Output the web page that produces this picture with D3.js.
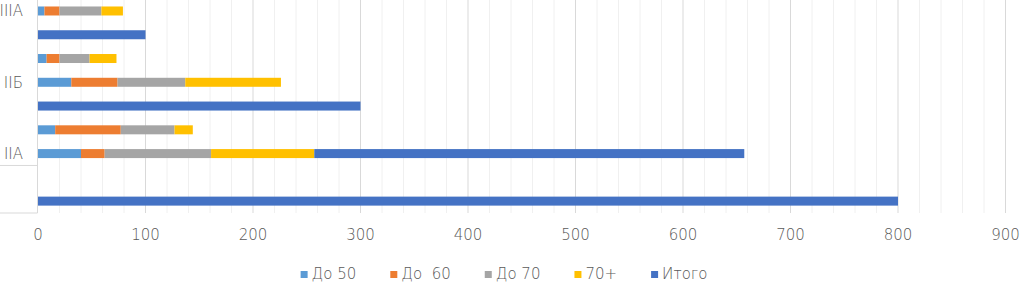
<!DOCTYPE html>
<html>
<head>
<meta charset="utf-8">
<script src="https://cdn.jsdelivr.net/npm/d3@7"></script>
<style>
  body { margin: 0; background: #fff; }
  text { font-family: "DejaVu Sans", "Helvetica Neue", sans-serif; font-weight: 200; fill: #595959; }
</style>
</head>
<body>
<figure id="bar" style="margin:0"></figure>
<script>
// rows, top to bottom
const rowLabels = ["IIIA", "", "", "IIБ", "", "", "IIA", "", ""];
const seriesNames = ["До 50", "До  60", "До 70", "70+", "Итого"];
const seriesColors = ["#5b9bd5", "#ed7d31", "#a5a5a5", "#ffc000", "#4472c4"];

const do50  = [6, 0, 8, 31, 0, 16, 40, 0, 0];
const do60  = [14, 0, 12, 43, 0, 61, 22, 0, 0];
const do70  = [39, 0, 28, 63, 0, 50, 99, 0, 0];
const over70 = [20, 0, 25, 89, 0, 17, 96, 0, 0];
const itogo = [0, 100, 0, 0, 300, 0, 400, 0, 800];

const xTicks = [0, 100, 200, 300, 400, 500, 600, 700, 800, 900];

const chartW = 1031, chartH = 285;
const plotLeft = 38, plotRight = 1005.5, plotTop = -0.9, plotBottom = 213;

const rows = rowLabels.map((label, i) => ({
  key: i, label: label,
  "До 50": do50[i], "До  60": do60[i], "До 70": do70[i], "70+": over70[i], "Итого": itogo[i]
}));

const svg = d3.select("figure#bar")
  .append("svg")
  .attr("width", chartW)
  .attr("height", chartH);

const x = d3.scaleLinear().domain([0, 900]).range([plotLeft, plotRight]);
const y = d3.scaleBand().domain(rows.map(d => d.key)).range([plotTop, plotBottom]).padding(0);
const color = d3.scaleOrdinal().domain(seriesNames).range(seriesColors);

// gridlines: minor every 20, major every 100
svg.append("g").selectAll("line")
  .data(d3.range(20, 901, 20).filter(v => v % 100 !== 0))
  .enter().append("line")
  .attr("x1", d => x(d)).attr("x2", d => x(d))
  .attr("y1", 0).attr("y2", plotBottom)
  .attr("stroke", "#f0f0f0").attr("stroke-width", 1);

svg.append("g").selectAll("line")
  .data(xTicks.slice(1))
  .enter().append("line")
  .attr("x1", d => x(d)).attr("x2", d => x(d))
  .attr("y1", 0).attr("y2", plotBottom)
  .attr("stroke", "#d9d9d9").attr("stroke-width", 1);

// category axis line and group separators
const ax = svg.append("g").attr("stroke", "#d9d9d9").attr("stroke-width", 1);
ax.append("line").attr("x1", plotLeft - 0.5).attr("x2", plotLeft - 0.5).attr("y1", 0).attr("y2", plotBottom);
const sepY = y(7);
ax.append("line").attr("x1", 0).attr("x2", plotLeft - 0.5).attr("y1", sepY).attr("y2", sepY);
ax.append("line").attr("x1", 0).attr("x2", plotLeft - 0.5).attr("y1", plotBottom).attr("y2", plotBottom);

// stacked bars
const stack = d3.stack().keys(seriesNames);
const barH = 9;
svg.append("g").selectAll("g")
  .data(stack(rows))
  .enter().append("g")
  .attr("fill", d => color(d.key))
  .selectAll("rect")
  .data(d => d)
  .enter().append("rect")
  .attr("x", d => x(d[0]))
  .attr("y", d => y(d.data.key) + y.bandwidth() / 2 - barH / 2)
  .attr("width", d => x(d[1]) - x(d[0]))
  .attr("height", barH);

// row labels
svg.append("g").selectAll("text")
  .data(rows.filter(d => d.label))
  .enter().append("text")
  .attr("x", 23)
  .attr("y", d => y(d.key) + y.bandwidth() / 2)
  .attr("dy", "0.36em")
  .attr("text-anchor", "end")
  .style("font-size", "15px")
  .text(d => d.label);

// x axis labels
svg.append("g").selectAll("text")
  .data(xTicks)
  .enter().append("text")
  .attr("x", d => x(d))
  .attr("y", 240)
  .attr("text-anchor", "middle")
  .style("font-size", "15px")
  .text(d => d);

// legend
const legend = svg.append("g");
let lx = 0;
seriesNames.forEach((name, i) => {
  const item = legend.append("g").attr("transform", "translate(" + lx + ",0)");
  item.append("rect").attr("x", 0).attr("y", 271).attr("width", 7).attr("height", 7)
    .attr("fill", seriesColors[i]);
  const t = item.append("text").attr("x", 11).attr("y", 279)
    .style("font-size", "15px").style("white-space", "pre")
    .text(name);
  lx += 11 + t.node().getComputedTextLength() + 34;
});
const legendW = lx - 34;
legend.attr("transform", "translate(" + (504 - legendW / 2) + ",0)");
</script>
</body>
</html>
